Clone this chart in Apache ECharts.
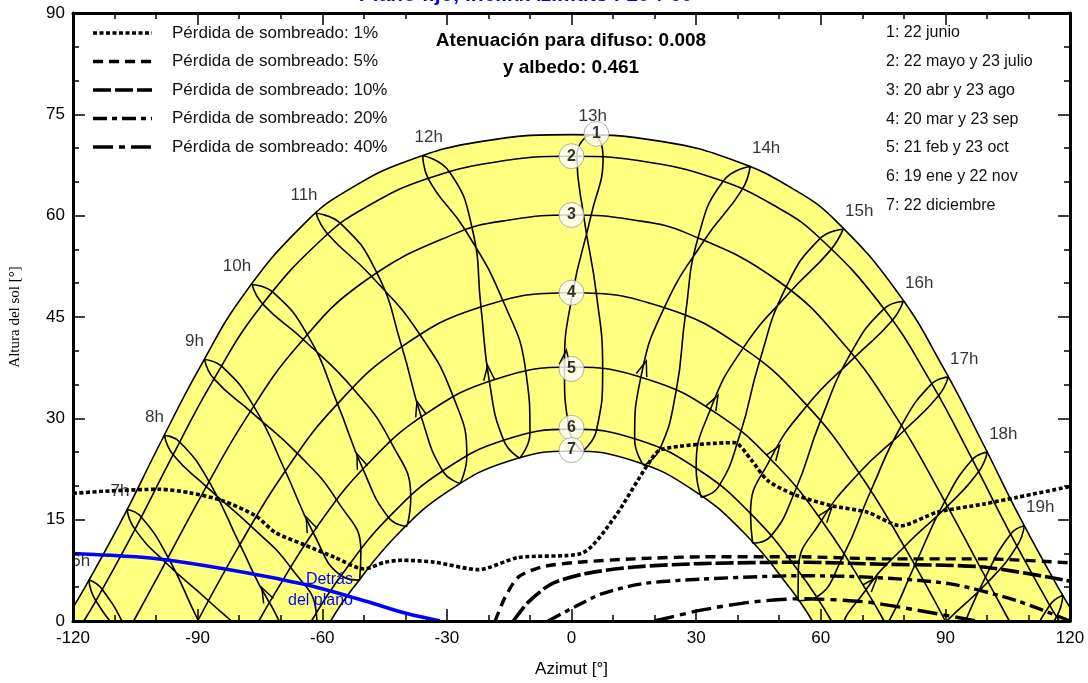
<!DOCTYPE html>
<html><head><meta charset="utf-8">
<script src="https://cdn.jsdelivr.net/npm/echarts@6/dist/echarts.min.js"></script>
<style>html,body{margin:0;padding:0;background:#fff}#c{width:1088px;height:683px}</style>
</head><body><div id="c"></div>
<script>
// ---------- DATA (azimuth °, altitude °) ----------
const dateCurve1 = [[-122.05,0],[-117.2,4.9],[-108.0,15.25],[-99.1,26.2],[-89.6,37.4],[-78.6,48.56],[-63.7,59.2],[-53.25,64.0],[-39.5,68.1],[-21.6,71.0],[0,72.0],[21.6,71.0],[39.5,68.1],[53.25,64.0],[63.7,59.2],[78.6,48.56],[89.6,37.4],[99.1,26.2],[108.0,15.25],[117.2,4.9],[122.05,0]];
const dateCurve2 = [[-117.4,0],[-114.8,2.64],[-105.4,13.2],[-96.2,24.24],[-86.4,35.47],[-74.8,46.56],[-59.3,56.95],[-48.8,61.5],[-35.5,65.3],[-18.97,67.86],[0,68.8],[18.97,67.86],[35.5,65.3],[48.8,61.5],[59.3,56.95],[74.8,46.56],[86.4,35.47],[96.2,24.24],[105.4,13.2],[114.8,2.64],[117.4,0]];
const dateCurve3 = [[-105.4,0],[-98.7,7.58],[-88.9,18.79],[-78.4,29.96],[-66.0,40.66],[-50.0,50.22],[-28.0,57.34],[-14.54,59.4],[0,60.1],[14.54,59.4],[28.0,57.34],[50.0,50.22],[66.0,40.66],[78.4,29.96],[88.9,18.79],[98.7,7.58],[105.4,0]];
const dateCurve4 = [[-90,0],[-79.95,11.19],[-69.1,22.03],[-56.5,32.03],[-41.1,40.5],[-22.05,46.43],[0,48.6],[22.05,46.43],[41.1,40.5],[56.5,32.03],[69.1,22.03],[79.95,11.19],[90,0]];
const dateCurve5 = [[-75.26,0],[-71.8,3.69],[-61.2,14.0],[-49.06,23.23],[-34.84,30.76],[-18.26,35.8],[0,37.6],[18.26,35.8],[34.84,30.76],[49.06,23.23],[61.2,14.0],[71.8,3.69],[75.26,0]];
const dateCurve6 = [[-62.6,0],[-55.0,7.1],[-43.56,15.63],[-30.5,22.42],[-15.8,26.86],[0,28.4],[15.8,26.86],[30.5,22.42],[43.56,15.63],[55.0,7.1],[62.6,0]];
const dateCurve7 = [[-57.98,0],[-52.86,4.65],[-41.73,12.91],[-29.1,19.45],[-15.03,23.68],[0,25.16],[15.03,23.68],[29.1,19.45],[41.73,12.91],[52.86,4.65],[57.98,0]];

// hour loops, order: Dic, Ene, Feb, Mar, Abr, May, Jun, Jul, Ago, Sep, Oct, Nov, Dic
const loop06 = [[-99.9,-11.05],[-106.9,-1.6],[-113.0,4.7],[-116.2,6.1],[-114.5,3.0],[-107.6,-2.3],[-97.4,-8.25]];
const loop07 = [[-70.4,-13.5],[-74.9,-13.6],[-82.6,-8.3],[-89.9,0.15],[-97.1,9.4],[-103.6,15.4],[-107.0,16.5],[-105.1,13.6],[-97.8,8.7],[-87.4,3.0],[-77.7,-2.8],[-71.1,-9.3],[-70.4,-13.5]];
const loop08 = [[-61.1,-3.3],[-65.5,-3.0],[-72.7,2.7],[-79.8,11.3],[-87.2,20.6],[-94.3,26.5],[-98.0,27.5],[-95.9,24.6],[-87.9,19.9],[-77.1,14.0],[-67.5,7.85],[-61.4,1.0],[-61.1,-3.3]];
const loop09 = [[-51.0,6.05],[-55.4,6.7],[-62.2,13.1],[-68.9,22.2],[-76.4,31.7],[-84.1,37.65],[-88.35,38.7],[-86.0,35.8],[-77.2,31.0],[-65.8,24.7],[-56.3,17.7],[-50.7,10.3],[-51.0,6.05]];
const loop10 = [[-39.6,14.0],[-44.0,15.3],[-50.15,22.4],[-56.3,32.1],[-63.4,42.2],[-71.75,48.6],[-76.9,49.8],[-74.3,46.9],[-64.45,41.6],[-52.45,34.3],[-43.3,26.3],[-38.7,18.2],[-39.6,14.0]];
const loop11 = [[-26.8,20.35],[-31.0,22.2],[-36.1,30.1],[-40.85,40.6],[-46.9,51.6],[-55.5,58.8],[-61.5,60.35],[-58.7,57.3],[-48.1,51.0],[-36.5,42.4],[-28.4,33.1],[-25.2,24.4],[-26.8,20.35]];
const loop12 = [[-12.5,24.1],[-16.3,26.7],[-19.75,35.35],[-21.8,46.5],[-23.9,58.1],[-29.4,66.5],[-35.8,68.9],[-34.5,65.5],[-25.5,57.8],[-16.5,47.4],[-11.0,36.95],[-10.0,27.8],[-12.5,24.1]];
const loop13 = [[2.6,25.1],[-0.6,28.4],[-1.7,37.6],[0.3,48.6],[4.7,60.0],[7.6,68.7],[5.1,72.0],[1.3,68.8],[2.9,60.1],[6.0,48.4],[7.5,37.3],[6.0,28.2],[2.6,25.1]];
const loop14 = [[17.4,23.0],[15.2,26.9],[16.7,36.1],[22.3,46.35],[32.0,56.4],[41.1,63.9],[43.0,67.3],[36.5,65.1],[30.5,56.8],[27.4,45.2],[25.2,34.1],[21.3,25.5],[17.4,23.0]];
const loop15 = [[31.25,18.3],[30.0,22.6],[33.35,31.2],[41.3,40.4],[52.6,48.7],[62.35,54.9],[65.4,58.0],[59.8,56.6],[51.55,49.3],[45.2,38.3],[40.6,27.7],[35.4,19.9],[31.25,18.3]];
const loop16 = [[43.6,11.5],[43.1,15.9],[47.8,23.9],[56.7,31.9],[68.0,38.95],[77.1,44.4],[79.85,47.3],[75.2,46.2],[67.2,39.6],[59.8,29.4],[54.0,19.5],[47.8,12.45],[43.6,11.5]];
const loop17 = [[54.55,3.0],[54.6,7.4],[60.1,14.8],[69.2,21.9],[80.1,28.2],[88.3,33.3],[90.7,36.1],[86.7,35.1],[79.4,28.9],[72.0,19.2],[65.5,9.8],[58.8,3.5],[54.55,3.0]];
const loop18 = [[64.4,-6.6],[64.8,-2.3],[70.85,4.6],[80.1,11.0],[90.5,17.0],[98.0,22.1],[100.1,25.0],[96.5,23.9],[89.85,17.7],[82.6,8.2],[75.8,-0.7],[68.7,-6.6],[64.4,-6.6]];
const loop19 = [[73.5,-17.1],[74.3,-12.8],[80.8,-6.3],[90.1,-0.15],[100.3,5.8],[107.25,11.1],[109.0,14.1],[105.7,12.85],[99.65,6.5],[92.65,-2.95],[85.65,-11.8],[78.0,-17.3],[73.5,-17.1]];
const loop20 = [[100.2,-11.35],[110.2,-5.0],[116.8,0.7],[118.3,3.8],[115.1,2.3],[109.5,-4.3],[102.9,-14.0]];
const hourNames = ['6h','7h','8h','9h','10h','11h','12h','13h','14h','15h','16h','17h','18h','19h'];

// shading-loss iso-curves
const shade1 = [[-120,18.9],[-111.2,19.25],[-99.2,19.5],[-92.0,19.0],[-84.0,17.8],[-76.1,15.6],[-71.3,13.1],[-64.8,11.4],[-56.9,9.4],[-50.0,7.7],[-44.9,8.7],[-40.8,9.0],[-32.9,8.7],[-22.4,7.6],[-12.8,9.4],[2.4,10.0],[10.3,15.3],[18.4,23.2],[21.6,25.4],[39.2,26.4],[43.2,23.9],[47.2,20.8],[53.5,18.75],[62.4,17.1],[71.2,16.1],[79.2,14.1],[88.0,16.1],[99.1,17.3],[107.2,18.3],[120,19.9]];
const shade5 = [[-18.4,0],[-16.0,3.5],[-12.8,6.5],[-7.2,8.0],[1.6,8.7],[15.2,9.2],[31.2,9.5],[55.2,9.5],[75.1,9.2],[99.1,9.2],[120,8.6]];
const shade10 = [[-14.0,0],[-10.4,2.8],[-4.8,5.5],[3.2,7.0],[15.2,8.0],[31.2,8.5],[55.2,8.7],[75.1,8.4],[99.1,8.0],[120,5.9]];
const shade20 = [[-5.6,0],[0.8,2.1],[7.2,4.0],[16.8,5.5],[31.2,6.2],[55.2,6.7],[71.2,6.5],[91.2,5.5],[107.2,3.0],[120,0]];
const shade40 = [[20.0,0],[31.2,1.6],[43.2,2.8],[55.2,3.3],[71.2,2.8],[83.2,1.6],[97.6,0]];
const behindPlane = [[-120,10.0],[-104.8,9.5],[-96.8,9.0],[-84.8,7.85],[-72.8,6.5],[-60.8,4.9],[-48.8,2.8],[-40.8,1.3],[-31.7,0]];

const dateMarkers = [[6.0,72.1],[0,68.8],[0,60.1],[0,48.6],[0,37.3],[0,28.6],[0,25.3]];
const dateMarkerNames = ['1','2','3','4','5','6','7'];
const dateLegend = ['1: 22 junio','2: 22 mayo y 23 julio','3: 20 abr y 23 ago','4: 20 mar y 23 sep','5: 21 feb y 23 oct','6: 19 ene y 22 nov','7: 22 diciembre'];
const shadeLegend = ['Pérdida de sombreado: 1%','Pérdida de sombreado: 5%','Pérdida de sombreado: 10%','Pérdida de sombreado: 20%','Pérdida de sombreado: 40%'];
const titleText = 'Plano fijo, Inclin/Azimuts : 10°/ 60°';
const infoLines = ['Atenuación para difuso: 0.008','y albedo: 0.461'];

// ---------- STYLE ----------
const FONT = '"Liberation Sans", Arial, sans-serif';
const YELLOW = '#FFFF80';
const shadeDash = [[4,2.5],[10,6],[18,4],[14,5,5,5],[20,6,6,6]];
const shadeWidth = [3.6,3.4,3.6,3.4,3.4];
const hourLabelDx = [-8,-7,-10,-10,-15,-12,6,0,16,16,16,16,16,16];

const loops = [loop06,loop07,loop08,loop09,loop10,loop11,loop12,loop13,loop14,loop15,loop16,loop17,loop18,loop19,loop20];
const dateCurves = [dateCurve1,dateCurve2,dateCurve3,dateCurve4,dateCurve5,dateCurve6,dateCurve7];
const shades = [shade1,shade5,shade10,shade20,shade40];

function line(data, extra) {
  return Object.assign({type:'line', data:data, smooth:0.45, symbol:'none', clip:true, silent:true,
    animation:false, lineStyle:{color:'#000', width:1.6}, z:3}, extra || {});
}
const series = [];
series.push(line(dateCurve1, {areaStyle:{color:YELLOW, opacity:1, origin:'start'}, z:1}));
series.push(line(dateCurve7, {areaStyle:{color:'#fff', opacity:1, origin:'start'}, z:2}));
for (let i = 1; i < 6; i++) series.push(line(dateCurves[i]));
loops.forEach(l => series.push(line(l, {smooth:0.5})));
shades.forEach((s, i) => series.push(line(s, {smooth:0.25, z:4, lineStyle:{color:'#000', width:shadeWidth[i], type:shadeDash[i]}})));
series.push(line(behindPlane, {smooth:0.3, z:4, lineStyle:{color:'#0000FF', width:3.6}}));

// hour labels at the June tip of each loop
series.push({type:'scatter', symbolSize:1, silent:true, animation:false, z:6,
  itemStyle:{color:'rgba(0,0,0,0)'},
  data: hourNames.map((h, i) => {
    const l = loops[i];
    const p = l.length === 7 ? l[3] : l[6];
    return {value:p, label:{show:true, formatter:h, position:'top', distance:9, offset:[hourLabelDx[i],0],
      fontSize:17, color:'#000', fontFamily:FONT}};
  })
});
// date markers
series.push({type:'scatter', symbol:'circle', symbolSize:25, silent:true, animation:false, z:7,
  itemStyle:{color:'#fff', borderColor:'#999', borderWidth:1},
  label:{show:true, position:'inside', fontSize:16, fontWeight:'bold', color:'#000', fontFamily:FONT,
    formatter: p => dateMarkerNames[p.dataIndex]},
  data: dateMarkers
});

const axisCommon = {
  type:'value', z:10,
  axisLine:{show:true, onZero:false, lineStyle:{color:'#000', width:3}},
  axisTick:{show:true, inside:true, length:12, lineStyle:{color:'#000', width:1.5}},
  minorTick:{show:true, splitNumber:3, length:6, lineStyle:{color:'#000', width:1.5}},
  splitLine:{show:false}, minorSplitLine:{show:false}
};
const graphic = [];
shadeLegend.forEach((t, i) => {
  const y = 33 + i * 28.5;
  graphic.push({type:'line', z:20, shape:{x1:93, y1:y, x2:152, y2:y},
    style:{stroke:'#000', lineWidth:shadeWidth[i], lineDash:shadeDash[i]}});
  graphic.push({type:'text', z:20, x:172, y:y,
    style:{text:t, font:'17px ' + FONT, fill:'#111', textVerticalAlign:'middle', verticalAlign:'middle'}});
});
dateLegend.forEach((t, i) => {
  graphic.push({type:'text', z:20, x:886, y:33 + i * 28.7,
    style:{text:t, font:'16px ' + FONT, fill:'#111', textVerticalAlign:'middle', verticalAlign:'middle'}});
});
infoLines.forEach((t, i) => {
  graphic.push({type:'text', z:20, x:571, y:41 + i * 27,
    style:{text:t, font:'bold 19px ' + FONT, fill:'#000', textAlign:'center', align:'center',
      textVerticalAlign:'middle', verticalAlign:'middle'}});
});
graphic.push({type:'text', z:20, x:530, y:-5,
  style:{text:titleText, font:'bold 21px ' + FONT, fill:'#0000FF', textAlign:'center', align:'center',
    textVerticalAlign:'middle', verticalAlign:'middle'}});
graphic.push({type:'text', z:20, x:353, y:580,
  style:{text:'Detrás', font:'16px ' + FONT, fill:'#0000FF', textAlign:'right', align:'right',
    textVerticalAlign:'middle', verticalAlign:'middle'}});
graphic.push({type:'text', z:20, x:353, y:601,
  style:{text:'del plano', font:'16px ' + FONT, fill:'#0000FF', textAlign:'right', align:'right',
    textVerticalAlign:'middle', verticalAlign:'middle'}});

const option = {
  backgroundColor:'#fff',
  animation:false,
  grid:{left:70, right:18, top:13, bottom:59, containLabel:false},
  xAxis:[
    Object.assign({}, axisCommon, {position:'bottom', min:-120, max:120, interval:30,
      axisLabel:{fontSize:17, color:'#000', margin:9, fontFamily:FONT},
      name:'Azimut [°]', nameLocation:'middle', nameGap:40,
      nameTextStyle:{fontSize:17, color:'#000', fontFamily:FONT}}),
    Object.assign({}, axisCommon, {position:'top', min:-120, max:120, interval:30, axisLabel:{show:false}})
  ],
  yAxis:[
    Object.assign({}, axisCommon, {position:'left', min:0, max:90, interval:15,
      axisLabel:{fontSize:17, color:'#000', margin:8, fontFamily:FONT},
      name:'Altura del sol [°]', nameLocation:'middle', nameGap:50, nameRotate:90,
      nameTextStyle:{fontSize:15, color:'#000', fontFamily:'"Liberation Serif", "Times New Roman", serif'}}),
    Object.assign({}, axisCommon, {position:'right', min:0, max:90, interval:15, axisLabel:{show:false}})
  ],
  series: series,
  graphic: graphic
};
const chart = echarts.init(document.getElementById('c'), null, {renderer:'canvas'});
chart.setOption(option);

// direction arrows on each hour loop (Feb -> Mar branch), placed through the chart's own scales
const arrows = [];
loops.forEach(l => {
  if (l.length !== 13 || l[2][1] <= 0) return;
  const a = chart.convertToPixel({xAxisIndex:0, yAxisIndex:0}, l[2]);
  const b = chart.convertToPixel({xAxisIndex:0, yAxisIndex:0}, l[3]);
  const dx = b[0] - a[0], dy = b[1] - a[1], len = Math.hypot(dx, dy);
  const ux = dx / len, uy = dy / len, nx = -uy, ny = ux;
  const tip = [a[0] + ux * 17, a[1] + uy * 17];
  const back = [tip[0] - ux * 15, tip[1] - uy * 15];
  arrows.push({type:'polyline', z:5, silent:true,
    shape:{points:[[back[0] + nx * 5.5, back[1] + ny * 5.5], tip, [back[0] - nx * 5.5, back[1] - ny * 5.5]]},
    style:{stroke:'#000', lineWidth:1.5, fill:null}});
});
chart.setOption({graphic: graphic.concat(arrows)}, {replaceMerge:['graphic']});
</script>
</body></html>
